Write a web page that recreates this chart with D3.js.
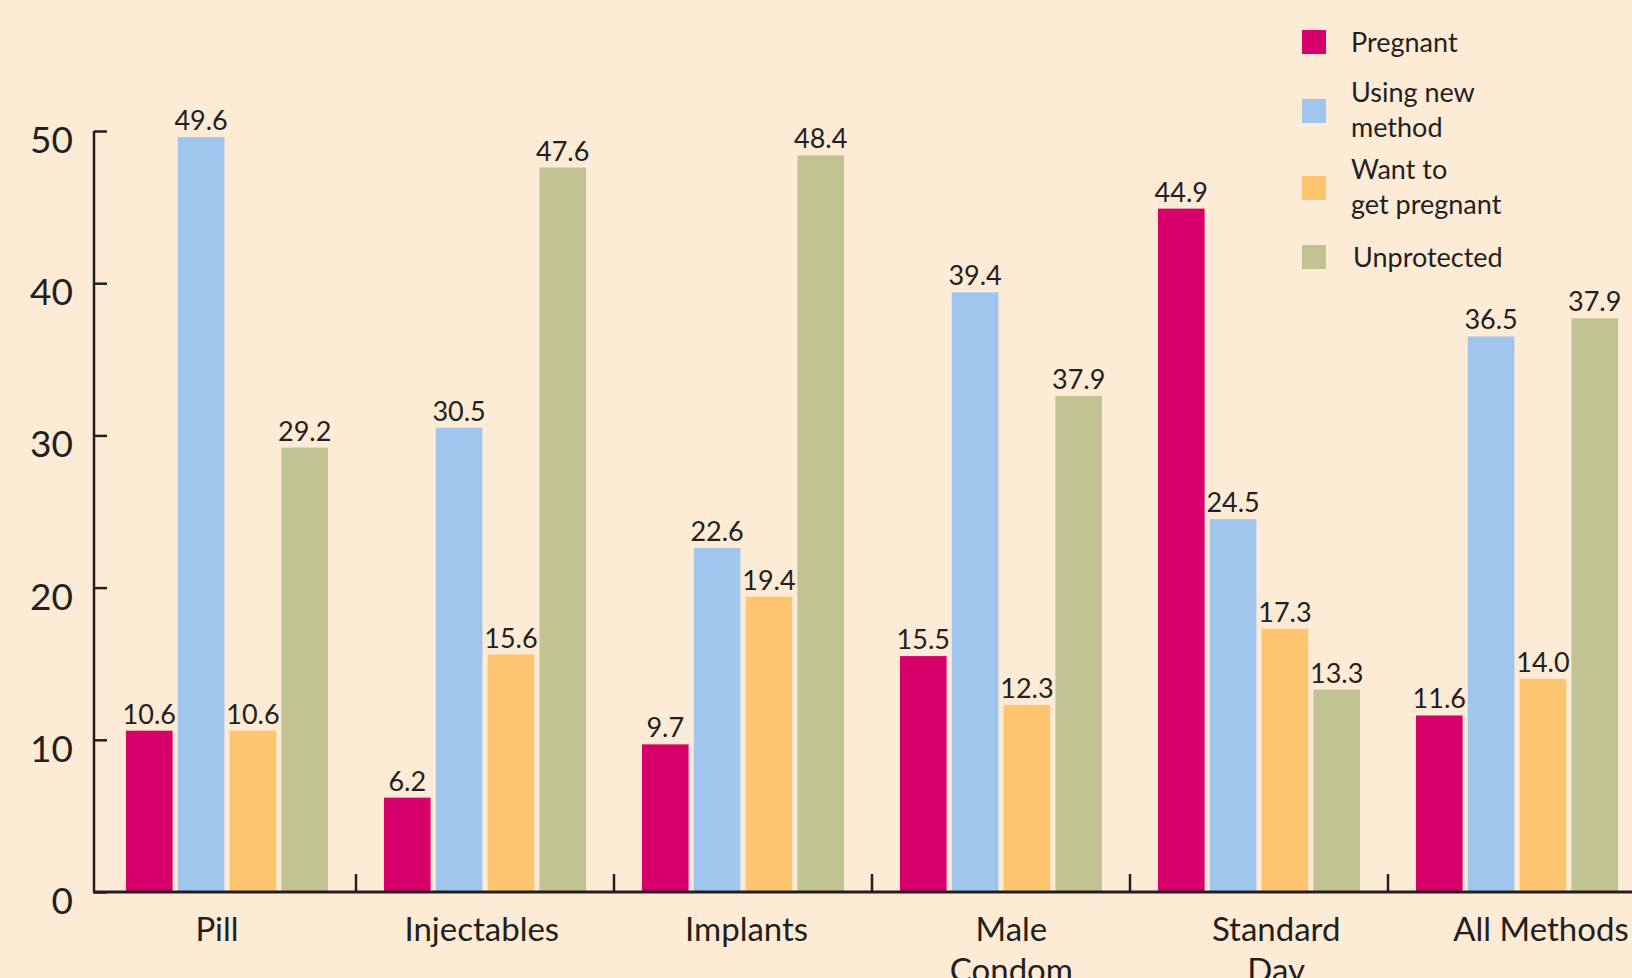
<!DOCTYPE html>
<html>
<head>
<meta charset="utf-8">
<script src="https://cdn.jsdelivr.net/npm/d3@7"></script>
<style>
  html, body { margin: 0; padding: 0; background: #FEEBD6; }
  svg { display: block; }
  text { font-family: Lato, "Open Sans", sans-serif; fill: #231F20; }
</style>
</head>
<body>
<svg id="chart" width="1632" height="978"></svg>
<script>
// ---- data ----
const categories = [["Pill"], ["Injectables"], ["Implants"], ["Male", "Condom"], ["Standard", "Day"], ["All Methods"]];
const seriesNames = ["Pregnant", "Using new method", "Want to get pregnant", "Unprotected"];
const legendLabels = [["Pregnant"], ["Using new", "method"], ["Want to", "get pregnant"], ["Unprotected"]];
const pregnant    = [10.6,  6.2,  9.7, 15.5, 44.9, 11.6];
const usingNew    = [49.6, 30.5, 22.6, 39.4, 24.5, 36.5];
const wantPreg    = [10.6, 15.6, 19.4, 12.3, 17.3, 14.0];
const unprotected = [29.2, 47.6, 48.4, 37.9, 13.3, 37.9];
// bar heights as drawn in the source (Male Condom "Unprotected" bar is drawn at ~32.6 though labelled 37.9)
const unprotectedDrawn = [29.2, 47.6, 48.4, 32.6, 13.3, 37.7];
const yTicks = [0, 10, 20, 30, 40, 50];
const colors = ["#D7006B", "#A1C6ED", "#FDC56F", "#C2C393"];

// ---- layout ----
const svg = d3.select("#chart");
const W = 1632, H = 978;
const axisX = 94, y0 = 892, yTop = 131;
const groupStart = 98, groupW = 258;

const x0 = d3.scaleBand().domain(d3.range(categories.length))
  .range([groupStart, groupStart + groupW * categories.length]).padding(0);
const x1 = d3.scaleBand().domain(d3.range(seriesNames.length))
  .range([0, groupW]).paddingInner(0.1).paddingOuter(0.54);
const y = d3.scaleLinear().domain([0, 50]).range([y0, yTop]);
const xLabel = d3.scalePoint().domain(d3.range(categories.length)).range([217, 1541]);

const seriesLabelVals = [pregnant, usingNew, wantPreg, unprotected];
const seriesBarVals = [pregnant, usingNew, wantPreg, unprotectedDrawn];

// bars
const groups = svg.append("g").selectAll("g")
  .data(categories.map((c, i) => i))
  .join("g")
  .attr("transform", i => `translate(${x0(i)},0)`);

groups.selectAll("rect")
  .data(i => seriesNames.map((s, k) => ({k, v: seriesBarVals[k][i], lab: seriesLabelVals[k][i]})))
  .join("rect")
  .attr("x", d => x1(d.k))
  .attr("width", x1.bandwidth())
  .attr("y", d => y(d.v))
  .attr("height", d => y0 - y(d.v))
  .attr("fill", d => colors[d.k]);

groups.selectAll("text.val")
  .data(i => seriesNames.map((s, k) => ({k, v: seriesBarVals[k][i], lab: seriesLabelVals[k][i]})))
  .join("text")
  .attr("class", "val")
  .attr("x", d => x1(d.k) + x1.bandwidth() / 2)
  .attr("y", d => y(d.v) - 7)
  .attr("text-anchor", "middle")
  .style("font-size", "27px")
  .text(d => d.lab.toFixed(1));

// y axis
const yAxis = d3.axisRight(y).tickValues(yTicks).tickSize(13).tickFormat("");
const ya = svg.append("g").attr("transform", `translate(${axisX},0)`).call(yAxis);
ya.select(".domain").attr("d", `M0,${yTop}V${y0}`).attr("stroke", "#231F20").attr("stroke-width", 2.5);
ya.selectAll(".tick line").attr("stroke", "#231F20").attr("stroke-width", 2.5);

svg.append("g").selectAll("text")
  .data(yTicks)
  .join("text")
  .attr("x", 73)
  .attr("y", d => y(d) + 22)
  .attr("text-anchor", "end")
  .style("font-size", "37px")
  .text(d => d);

// x axis baseline and group separators
const xAxis = d3.axisTop(x0).tickSize(0).tickFormat("");
const xa = svg.append("g").attr("transform", `translate(0,${y0})`).call(xAxis);
xa.select(".domain").attr("d", `M${axisX - 1},0H${W}`).attr("stroke", "#231F20").attr("stroke-width", 3);
xa.selectAll(".tick").remove();

svg.append("g").selectAll("line")
  .data(d3.range(1, categories.length))
  .join("line")
  .attr("x1", i => x0(i)).attr("x2", i => x0(i))
  .attr("y1", y0).attr("y2", y0 - 18)
  .attr("stroke", "#231F20").attr("stroke-width", 2.5);

// category labels
const cl = svg.append("g").selectAll("text")
  .data(categories.map((c, i) => ({c, i})))
  .join("text")
  .attr("x", d => xLabel(d.i))
  .attr("y", 941)
  .attr("text-anchor", "middle")
  .style("font-size", "33px");
cl.selectAll("tspan")
  .data(d => d.c.map((t, j) => ({t, j, x: xLabel(d.i)})))
  .join("tspan")
  .attr("x", d => d.x)
  .attr("dy", d => d.j === 0 ? 0 : 41)
  .text(d => d.t);

// legend
const legendY = [42, 111, 188, 257];
const lg = svg.append("g").selectAll("g")
  .data(legendLabels.map((l, k) => ({l, k})))
  .join("g")
  .attr("transform", d => `translate(1302,${legendY[d.k]})`);
lg.append("rect")
  .attr("x", 0).attr("y", -12).attr("width", 24).attr("height", 24)
  .attr("fill", d => colors[d.k]);
const lt = lg.append("text")
  .attr("x", d => d.k === 3 ? 51 : 49)
  .attr("y", d => d.l.length === 1 ? 10 : -9)
  .style("font-size", "27px");
lt.selectAll("tspan")
  .data(d => d.l.map((t, j) => ({t, j, x: d.k === 3 ? 51 : 49})))
  .join("tspan")
  .attr("x", d => d.x)
  .attr("dy", d => d.j === 0 ? 0 : 35)
  .text(d => d.t);
</script>
</body>
</html>
